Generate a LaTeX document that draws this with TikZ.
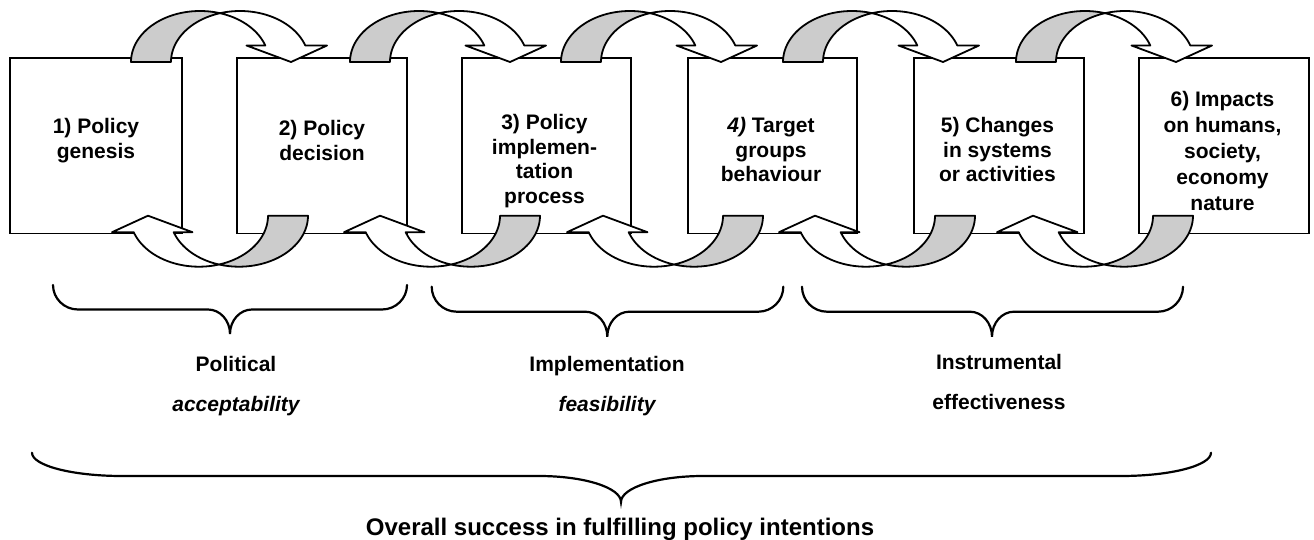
\documentclass[tikz,border=0pt]{standalone}
\usepackage{fontspec}
\setmainfont{Liberation Sans}
\definecolor{arrowgray}{HTML}{CCCCCC}
\tikzset{
  boxstyle/.style={draw=black, line width=1.8pt, fill=white, minimum height=175.5pt, inner sep=0pt},
  boxtext/.style={font=\fontsize{21}{24.5}\selectfont\bfseries, align=center, inner sep=0pt},
  lbl/.style={font=\fontsize{21}{24}\selectfont\bfseries, inner sep=0pt, anchor=base},
  biglbl/.style={font=\fontsize{24}{28}\selectfont\bfseries, inner sep=0pt, anchor=base},
  arrowline/.style={draw=black, line width=1.8pt, line join=round},
  braceline/.style={draw=black, line width=2.2pt, line cap=round}
}
\newcommand{\arrowshape}{%
  \filldraw[arrowline, fill=arrowgray] (0,0)
    -- plot[domain=180:73.15, samples=40, variable=\t] ({69+69*cos(\t)},{51*sin(\t)})
    -- plot[domain=106.85:180, samples=40, variable=\t] ({109+69*cos(\t)},{51*sin(\t)})
    -- cycle;
  \filldraw[arrowline, fill=white]
    plot[domain=106.85:18.88, samples=40, variable=\t] ({109+69*cos(\t)},{51*sin(\t)})
    -- (196,16.5) -- (160,0) -- (115.5,16.5)
    -- plot[domain=18.88:73.15, samples=40, variable=\t] ({69+69*cos(\t)},{51*sin(\t)})
    -- cycle;
}
\newcommand{\toparrow}[1]{\begin{scope}[shift={(#1,62)}, yscale=-1]\arrowshape\end{scope}}
\newcommand{\botarrow}[1]{\begin{scope}[shift={(#1,215.7)}, xscale=-1]\arrowshape\end{scope}}
\newcommand{\bracedn}[8]{%
  \draw[braceline] (#1,#4) .. controls (#1,{#4+0.5523*(#5-#4)}) and ({#1+#7-0.5523*#7},#5) .. ({#1+#7},#5)
    -- ({#3-#8},#5) .. controls ({#3-#8+0.5523*#8},#5) and (#3,{#6-0.5523*(#6-#5)}) .. (#3,#6)
    .. controls (#3,{#6-0.5523*(#6-#5)}) and ({#3+#8-0.5523*#8},#5) .. ({#3+#8},#5)
    -- ({#2-#7},#5) .. controls ({#2-#7+0.5523*#7},#5) and (#2,{#4+0.5523*(#5-#4)}) .. (#2,#4);}
\begin{document}
\begin{tikzpicture}[x=1pt, y=-1pt]
\useasboundingbox (0,0) rectangle (1314,540);
% boxes
\node[boxstyle, minimum width=172pt] (b1) at (96,145.75) {};
\node[boxstyle, minimum width=170pt] (b2) at (322,145.75) {};
\node[boxstyle, minimum width=169pt] (b3) at (546.5,145.75) {};
\node[boxstyle, minimum width=169pt] (b4) at (772.5,145.75) {};
\node[boxstyle, minimum width=170pt] (b5) at (999,145.75) {};
\node[boxstyle, minimum width=170pt] (b6) at (1224,145.75) {};
% box texts
\node[boxtext] (t1) at (96,140.5) {1) Policy\\genesis};
\node[boxtext] (t2) at (322,140.5) {2) Policy\\decision};
\node[boxtext] (t3) at (544.5,161) {3) Policy\\implemen-\\tation\\process};
\node[boxtext] (t4) at (771,149.5) {\textit{4)} Target\\groups\\behaviour};
\node[boxtext] (t5) at (997.5,149.5) {5) Changes\\in systems\\or activities};
\node[boxtext, font=\fontsize{21}{26}\selectfont\bfseries] (t6) at (1222.5,151) {6) Impacts\\on humans,\\society,\\economy\\nature};
% curved arrows
\toparrow{131}\toparrow{350}\toparrow{561}\toparrow{783}\toparrow{1016}
\botarrow{308}\botarrow{540}\botarrow{763}\botarrow{975}\botarrow{1193}
% braces
\bracedn{53}{407}{230}{285}{309.5}{334}{25}{22}
\bracedn{431.7}{783.3}{607.3}{286.7}{311.7}{336.7}{25}{22}
\bracedn{802}{1183}{992}{286.7}{311.7}{336.7}{25}{22}
\bracedn{32}{1211}{621}{452.7}{476}{502}{90}{82}
% labels
\node[lbl] (pol) at (236,371) {Political};
\node[lbl] (acc) at (236,411) {\itshape acceptability};
\node[lbl] (imp) at (607,371.5) {Implementation};
\node[lbl] (fea) at (607,411.5) {\itshape feasibility};
\node[lbl] (ins) at (999,369) {Instrumental};
\node[lbl] (eff) at (999,409) {effectiveness};
\node[biglbl] (ov) at (620,535) {Overall success in fulfilling policy intentions};
\end{tikzpicture}
\end{document}
